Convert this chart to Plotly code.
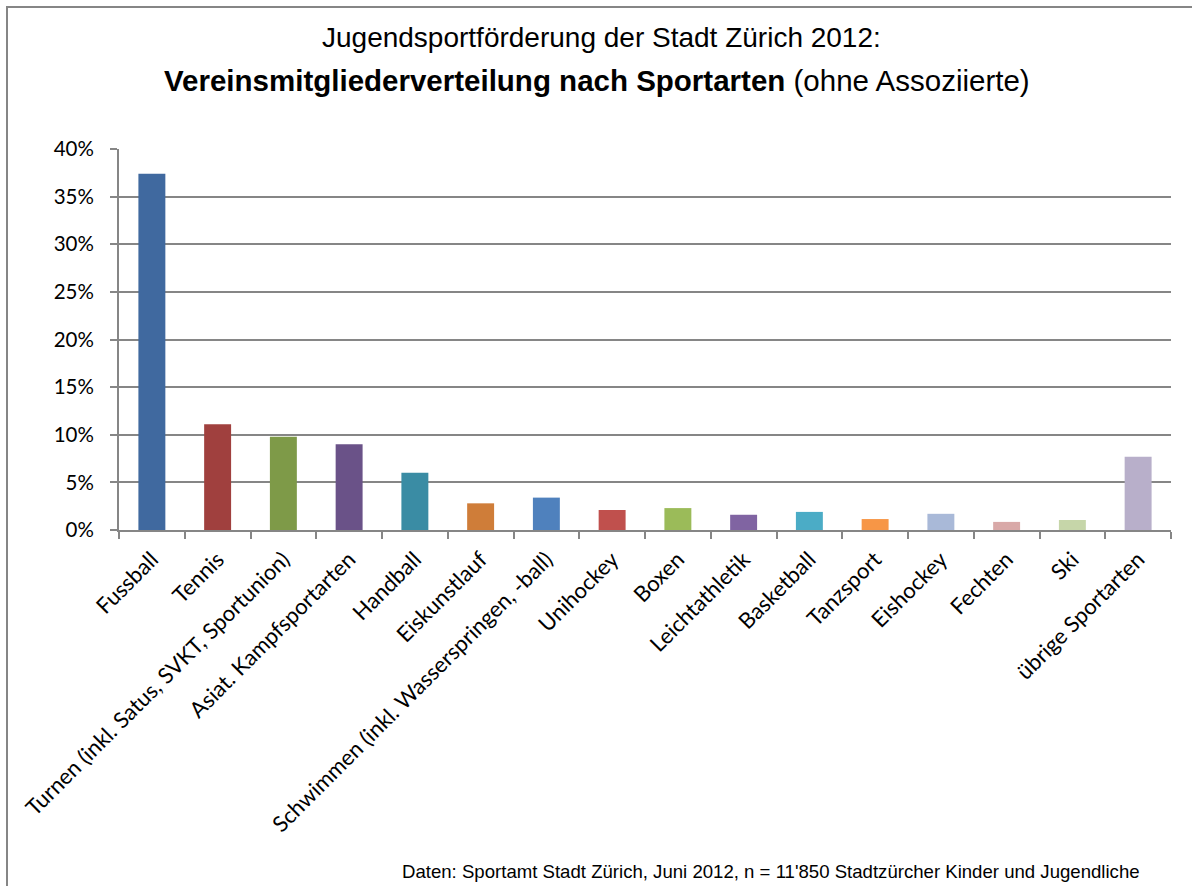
import plotly.graph_objects as go

categories = ["Fussball", "Tennis", "Turnen (inkl. Satus, SVKT, Sportunion)",
              "Asiat. Kampfsportarten", "Handball", "Eiskunstlauf",
              "Schwimmen (inkl. Wasserspringen, -ball)", "Unihockey", "Boxen",
              "Leichtathletik", "Basketball", "Tanzsport", "Eishockey",
              "Fechten", "Ski", "übrige Sportarten"]
shares = [0.374, 0.111, 0.098, 0.090, 0.060, 0.028, 0.034, 0.021, 0.023,
          0.016, 0.019, 0.0115, 0.017, 0.0085, 0.0105, 0.077]
colors = ["#40699F", "#A0403E", "#7E9A48", "#6A5288", "#3A8CA4", "#CF7D39",
          "#4F81BD", "#C0504D", "#9BBB59", "#8064A2", "#4BACC6", "#F79646",
          "#A9B9D8", "#D9A9A8", "#C6D6A9", "#B8AFCA"]
yticks = [0, 0.05, 0.10, 0.15, 0.20, 0.25, 0.30, 0.35, 0.40]

title1 = "Jugendsportförderung der Stadt Zürich 2012:"
title2 = "<b>Vereinsmitgliederverteilung nach Sportarten</b> (ohne Assoziierte)"
source = "Daten: Sportamt Stadt Zürich, Juni 2012, n = 11'850 Stadtzürcher Kinder und Jugendliche"

W, H = 1192, 886
L, R, T, B = 119, 21, 149, 356
pw, ph = W - L - R, H - T - B

def px(x):
    return (x - L) / pw

def py(y):
    return (H - B - y) / ph

grey = "#868686"
fig = go.Figure(go.Bar(x=categories, y=shares, marker=dict(color=colors, line=dict(width=0)),
                       hoverinfo="x+y"))

fig.update_layout(
    width=W, height=H,
    margin=dict(l=L, r=R, t=T, b=B),
    paper_bgcolor="white", plot_bgcolor="white",
    bargap=0.59,
    showlegend=False,
    font=dict(family="Lato", color="black"),
)
fig.update_yaxes(
    range=[0, 0.4], tickvals=yticks, tickformat=".0%",
    showgrid=True, gridcolor=grey, gridwidth=2,
    showline=True, linecolor=grey, linewidth=2,
    ticks="outside", ticklen=7, tickcolor=grey, tickwidth=2,
    tickfont=dict(family="Lato", size=20.5, color="black"),
    ticklabelstandoff=12, zeroline=False,
)
fig.update_xaxes(
    showline=True, linecolor=grey, linewidth=2,
    ticks="outside", ticklen=7, tickcolor=grey, tickwidth=2,
    tickson="boundaries", tickangle=-45,
    tickfont=dict(family="Lato", size=22, color="black"),
    ticklabelstandoff=6,
    showgrid=False,
)
fig.add_shape(type="rect", xref="paper", yref="paper",
              x0=px(7), y0=py(1000), x1=px(1300), y1=py(7),
              line=dict(color=grey, width=2), fillcolor="rgba(0,0,0,0)", layer="below")
fig.add_annotation(text=title1, xref="paper", yref="paper", x=px(601), y=py(37),
                   xanchor="center", yanchor="middle", showarrow=False,
                   font=dict(family="Liberation Sans", size=28, color="black"))
fig.add_annotation(text=title2, xref="paper", yref="paper", x=px(596.5), y=py(81),
                   xanchor="center", yanchor="middle", showarrow=False,
                   font=dict(family="Liberation Sans", size=29.5, color="black"))
fig.add_annotation(text=source, xref="paper", yref="paper", x=px(770.5), y=py(884),
                   xanchor="center", yanchor="bottom", showarrow=False,
                   font=dict(family="Liberation Sans", size=18.6, color="black"))

fig.write_html("out.html")
